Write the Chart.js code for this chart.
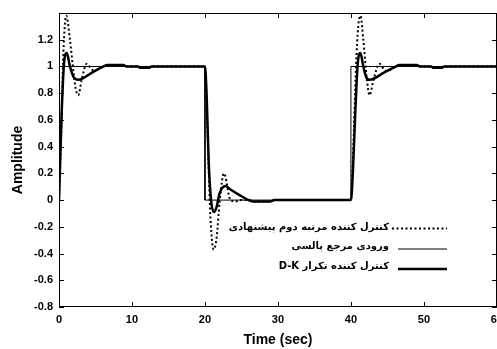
<!DOCTYPE html>
<html>
<head>
<meta charset="utf-8">
<script src="https://cdn.jsdelivr.net/npm/chart.js@4/dist/chart.umd.min.js"></script>
<style>
html, body { margin: 0; padding: 0; background: #fff; }
#wrap { width: 497px; height: 349px; overflow: hidden; }
</style>
</head>
<body>
<div id="wrap"><canvas id="chart" width="509" height="349"></canvas></div>
<script>
// series labels (legend order)
const seriesLabels = [
  'کنترل کننده مرتبه دوم پیشنهادی',
  'ورودی مرجع پالسی',
  'کنترل کننده تکرار D-K'
];

// pulse reference input
const tRef = [0, 20, 20, 40, 40, 60];
const yRef = [1, 1, 0, 0, 1, 1];

// D-K iteration controller response
const tDK = [0, 0.37, 0.7, 1.06, 1.5, 2.0, 2.65, 4.7, 6.1, 6.6, 8.8, 9.3, 10.8, 11.2, 12.3, 12.7, 20,
  20.25, 20.5, 20.8, 21.2, 21.6, 22.0, 22.8, 23.6, 24.8, 26.0, 26.6, 29.0, 29.5, 40,
  40.3, 40.6, 40.95, 41.3, 41.7, 42.1, 42.55, 44.7, 46.2, 46.6, 49.0, 49.5, 51.0, 51.3, 52.4, 52.8, 60];
const yDK = [0, 0.66, 1.03, 1.1, 1.0, 0.92, 0.9, 0.96, 1.0, 1.01, 1.01, 1.0, 1.0, 0.99, 0.99, 1.0, 1.0,
  0.75, 0.3, 0.02, -0.09, -0.05, 0.05, 0.105, 0.075, 0.035, 0.0, -0.01, -0.01, 0.0, 0.0,
  0.25, 0.66, 1.03, 1.1, 1.0, 0.92, 0.9, 0.96, 1.0, 1.01, 1.01, 1.0, 1.0, 0.99, 0.99, 1.0, 1.0];

// proposed second-order controller response
const tPr = [0, 0.3, 0.6, 1.0, 1.5, 2.0, 2.3, 2.65, 3.1, 3.8, 4.3, 4.8, 6.1, 6.6, 8.8, 9.3, 10.8, 11.2, 12.3, 12.7, 20,
  20.3, 20.75, 21.2, 21.6, 22.0, 22.6, 23.5, 24.2, 25.0, 26.0, 26.6, 29.0, 29.5, 40,
  40.3, 40.7, 41.0, 41.3, 41.7, 42.1, 42.35, 42.55, 43.1, 43.9, 44.5, 44.9, 46.2, 46.6, 49.0, 49.5, 51.0, 51.3, 52.4, 52.8, 60];
const yPr = [0, 0.5, 1.1, 1.38, 1.2, 0.95, 0.83, 0.785, 0.9, 1.02, 0.99, 0.97, 1.0, 1.01, 1.01, 1.0, 1.0, 0.99, 0.99, 1.0, 1.0,
  0.6, -0.13, -0.37, -0.28, -0.02, 0.2, 0.0, -0.01, 0.0, 0.0, -0.01, -0.01, 0.0, 0.0,
  0.35, 1.0, 1.3, 1.38, 1.2, 0.95, 0.83, 0.785, 0.9, 1.02, 0.98, 0.965, 1.0, 1.01, 1.01, 1.0, 1.0, 0.99, 0.99, 1.0, 1.0];

// tick labels
const xTicks = [0, 10, 20, 30, 40, 50, 60];
const yTicks = [-0.8, -0.6, -0.4, -0.2, 0, 0.2, 0.4, 0.6, 0.8, 1, 1.2];

const pts = (t, y) => t.map((v, i) => ({ x: v, y: y[i] }));
const FONT = '"Liberation Sans", Arial, sans-serif';

// box around the plot with inward ticks, matlab style
const boxPlugin = {
  id: 'box',
  afterDraw(chart) {
    const { ctx, chartArea: a, scales: { x, y } } = chart;
    ctx.save();
    ctx.strokeStyle = '#000';
    ctx.lineWidth = 1;
    ctx.strokeRect(Math.round(a.left) + 0.5, Math.round(a.top) + 0.5,
      Math.round(a.right - a.left) - 1, Math.round(a.bottom - a.top) - 1);
    ctx.beginPath();
    x.ticks.forEach(t => {
      const p = Math.round(x.getPixelForValue(t.value)) + 0.5;
      ctx.moveTo(p, a.bottom); ctx.lineTo(p, a.bottom - 5);
      ctx.moveTo(p, a.top); ctx.lineTo(p, a.top + 5);
    });
    y.ticks.forEach(t => {
      const p = Math.round(y.getPixelForValue(t.value)) + 0.5;
      ctx.moveTo(a.left, p); ctx.lineTo(a.left + 5, p);
      ctx.moveTo(a.right, p); ctx.lineTo(a.right - 5, p);
    });
    ctx.stroke();
    ctx.restore();
  }
};

// legend drawn inside plot, rtl text with sample on the right
const legendPlugin = {
  id: 'rtlLegend',
  afterDraw(chart) {
    const ctx = chart.ctx;
    const rowsY = [227, 246, 266];
    ctx.save();
    chart.data.datasets.forEach((ds, i) => {
      const y = rowsY[i];
      ctx.font = 'bold 10px "DejaVu Sans", sans-serif';
      ctx.fillStyle = '#000';
      ctx.direction = 'rtl';
      ctx.textAlign = 'right';
      ctx.textBaseline = 'middle';
      ctx.fillText(ds.label, 389, y);
      ctx.direction = 'ltr';
      ctx.strokeStyle = '#000';
      ctx.lineWidth = ds.borderWidth;
      ctx.setLineDash(ds.borderDash || []);
      ctx.beginPath();
      const ly = i === 0 ? y + 1.5 : y + 3;
      ctx.moveTo(ds.borderDash ? 392 : 398, ly);
      ctx.lineTo(447, ly);
      ctx.stroke();
    });
    ctx.restore();
  }
};

new Chart(document.getElementById('chart'), {
  type: 'line',
  data: {
    datasets: [
      {
        label: seriesLabels[0], data: pts(tPr, yPr),
        borderColor: '#000', borderWidth: 2, borderDash: [2, 2.5],
        pointRadius: 0, cubicInterpolationMode: 'monotone', order: 1
      },
      {
        label: seriesLabels[1], data: pts(tRef, yRef),
        borderColor: '#000', borderWidth: 1,
        pointRadius: 0, tension: 0, order: 2
      },
      {
        label: seriesLabels[2], data: pts(tDK, yDK),
        borderColor: '#000', borderWidth: 2.5,
        pointRadius: 0, cubicInterpolationMode: 'monotone', order: 0
      }
    ]
  },
  options: {
    responsive: false,
    animation: false,
    layout: { padding: { top: 13, right: 6, left: 0, bottom: 0 } },
    plugins: { legend: { display: false }, tooltip: { enabled: false } },
    scales: {
      x: {
        type: 'linear', min: 0, max: 60,
        afterBuildTicks: s => { s.ticks = xTicks.map(v => ({ value: v })); },
        afterFit: s => { s.height = 42; },
        grid: { display: false, drawTicks: false },
        border: { display: false },
        ticks: { autoSkip: false, maxRotation: 0, padding: 6, color: '#000',
          font: { family: FONT, size: 11, weight: 'bold' } },
        title: { display: true, text: 'Time (sec)', color: '#000', padding: { top: 0, bottom: 0 },
          font: { family: FONT, size: 14, weight: 'bold' } }
      },
      y: {
        min: -0.8, max: 1.4,
        afterBuildTicks: s => { s.ticks = yTicks.map(v => ({ value: v })); },
        afterFit: s => { s.width = 59; },
        grid: { display: false, drawTicks: false },
        border: { display: false },
        ticks: { padding: 6, color: '#000',
          callback: v => String(Math.round(v * 10) / 10),
          font: { family: FONT, size: 11, weight: 'bold' } },
        title: { display: true, text: 'Amplitude', color: '#000', padding: { top: 10, bottom: 0 },
          font: { family: FONT, size: 14, weight: 'bold' } }
      }
    }
  },
  plugins: [boxPlugin, legendPlugin]
});
</script>
</body>
</html>
